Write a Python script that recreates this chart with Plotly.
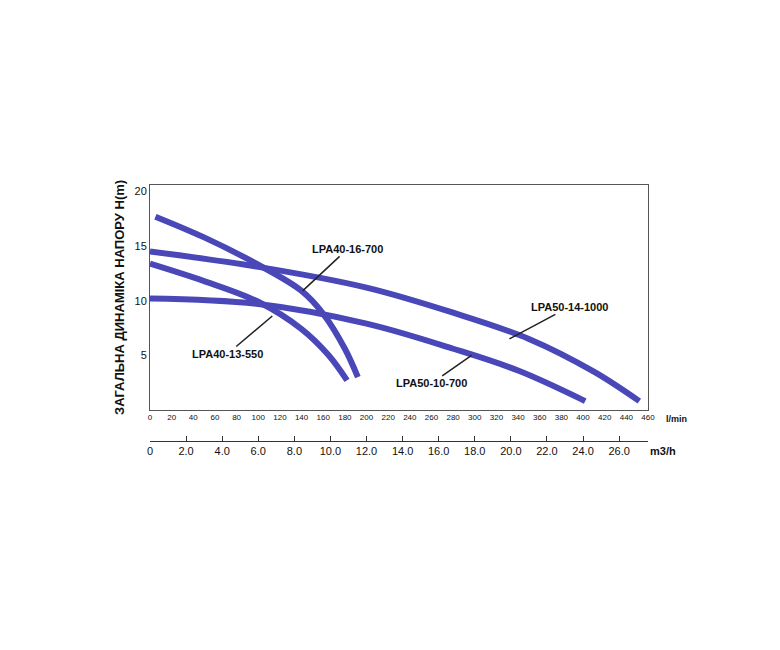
import plotly.graph_objects as go

# flow in l/min, head in m
q_16_700 = [5, 50, 100, 140, 160, 180, 192]
h_16_700 = [17.7, 15.8, 13.3, 10.9, 8.8, 5.6, 3.0]

q_13_550 = [0, 50, 100, 140, 165, 182]
h_13_550 = [13.4, 11.8, 9.9, 7.4, 5.0, 2.7]

q_14_1000 = [0, 100, 200, 280, 350, 410, 452]
h_14_1000 = [14.5, 13.1, 11.2, 8.9, 6.5, 3.5, 0.8]

q_10_700 = [0, 100, 200, 280, 340, 402]
h_10_700 = [10.2, 9.7, 7.9, 5.6, 3.6, 0.8]

lmin_ticks = list(range(0, 461, 20))
m3h_ticks = [2.0 * i for i in range(14)]
m3h_labels = ["0"] + [f"{v:.1f}" for v in m3h_ticks[1:]]

color = "#4a48b8"
fig = go.Figure()
for q, h in [(q_16_700, h_16_700), (q_13_550, h_13_550),
             (q_14_1000, h_14_1000), (q_10_700, h_10_700)]:
    fig.add_trace(go.Scatter(x=q, y=h, mode="lines", line=dict(color=color, width=6, shape="spline"),
                             showlegend=False))
# dummy trace for second axis
fig.add_trace(go.Scatter(x=[0, 27.6], y=[None, None], xaxis="x2", showlegend=False, hoverinfo="skip"))

labels = [
    ("LPA40-16-700", 141, 10.9, 45, -42),
    ("LPA40-13-550", 113, 8.6, -45, 38),
    ("LPA50-14-1000", 332, 6.5, 60, -32),
    ("LPA50-10-700", 297, 5.0, -40, 28),
]
for text, x, y, ax, ay in labels:
    fig.add_annotation(x=x, y=y, ax=ax, ay=ay, text="<b>" + text + "</b>", showarrow=True,
                       arrowhead=0, arrowwidth=1.5, arrowcolor="#222",
                       font=dict(size=11, color="#111"))

fig.add_annotation(x=1.0, y=0.145, xref="paper", yref="paper", xanchor="left", yanchor="top",
                   text="<b>l/min</b>", showarrow=False, font=dict(size=9, color="#111"), xshift=16, yshift=-2)
fig.add_annotation(x=1.0, y=0.027, xref="paper", yref="paper", xanchor="left", yanchor="top",
                   text="<b>m3/h</b>", showarrow=False, font=dict(size=11, color="#111"), yshift=-2)

fig.update_layout(
    width=780, height=650, plot_bgcolor="white", paper_bgcolor="white",
    margin=dict(l=142, r=140, t=177, b=210),
    font=dict(family="Liberation Sans, Arial", color="#111"),
    xaxis=dict(range=[0, 460], tickvals=lmin_ticks, tickfont=dict(size=8), showgrid=False,
               showline=True, linecolor="#555", mirror=True, ticks="", zeroline=False),
    yaxis=dict(domain=[0.145, 1], range=[0, 20.6], tickvals=[5, 10, 15, 20], showgrid=False,
               showline=True, linecolor="#555", mirror=True, zeroline=False, tickfont=dict(size=11),
               title=dict(text="<b>ЗАГАЛЬНА ДИНАМІКА НАПОРУ H(m)</b>", font=dict(size=13), standoff=6)),
    xaxis2=dict(range=[0, 27.6], overlaying="x", anchor="free", position=0.027, side="bottom",
                tickvals=m3h_ticks, ticktext=m3h_labels, showgrid=False, showline=True,
                linecolor="#333", ticks="inside", ticklen=5, tickcolor="#333", tickfont=dict(size=11),
                zeroline=False),
)
fig.write_html("out.html")
